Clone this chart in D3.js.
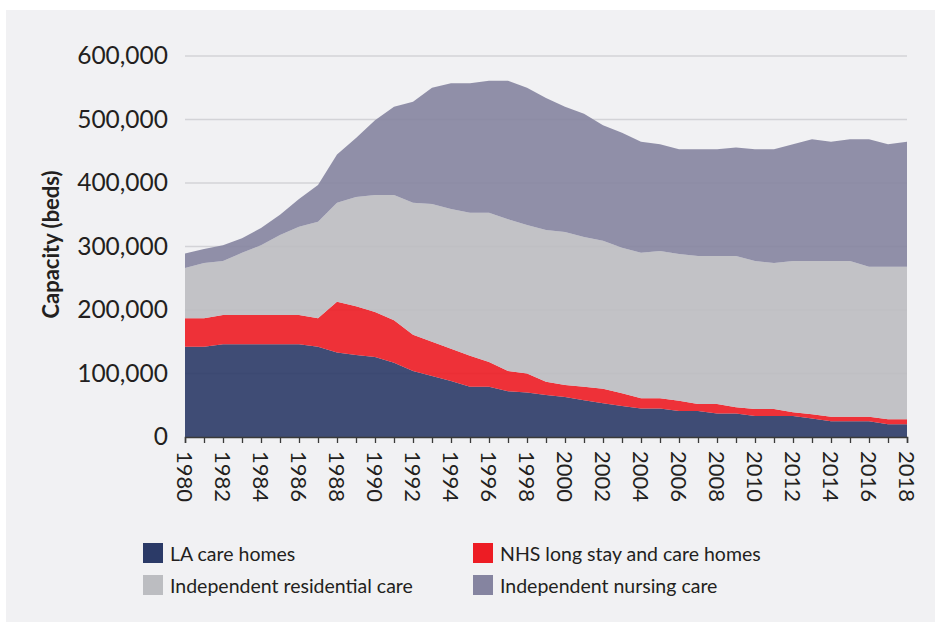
<!DOCTYPE html>
<html>
<head>
<meta charset="utf-8">
<script src="https://cdnjs.cloudflare.com/ajax/libs/d3/7.8.5/d3.min.js"></script>
<style>
  body { margin: 0; background: #ffffff; }
  svg { display: block; font-family: Lato, "Open Sans", sans-serif; }
</style>
</head>
<body>
<svg id="chart" width="941" height="627"></svg>
<script>

//
// Data (beds)
//
var years = d3.range(1980, 2019);

var la_care = [142000, 142000, 146000, 146000, 146000, 146000, 146000, 142000, 133000, 129000,
               126000, 117000, 104000, 96000, 88000, 79000, 79000, 72000, 70000, 66000,
               63000, 58000, 53000, 49000, 45000, 45000, 41000, 41000, 37000, 37000,
               33000, 33000, 33000, 29000, 25000, 25000, 25000, 20000, 20000];

var nhs_care = [45000, 45000, 46000, 46000, 46000, 46000, 46000, 45000, 80000, 77000,
                71000, 67000, 57000, 54000, 51000, 49000, 39000, 32000, 30000, 21000,
                19000, 21000, 23000, 20000, 16000, 16000, 16000, 11000, 15000, 10000,
                11000, 11000, 6000, 7000, 7000, 7000, 7000, 8000, 8000];

var ind_residential = [79000, 87000, 85000, 98000, 110000, 126000, 139000, 152000, 156000, 172000,
                       184000, 197000, 208000, 217000, 220000, 225000, 235000, 239000, 234000, 239000,
                       241000, 236000, 233000, 229000, 229000, 232000, 231000, 233000, 233000, 238000,
                       233000, 230000, 238000, 241000, 245000, 245000, 236000, 240000, 240000];

var ind_nursing = [23000, 22000, 25000, 23000, 27000, 32000, 44000, 58000, 76000, 93000,
                   118000, 139000, 159000, 183000, 198000, 204000, 208000, 218000, 216000, 208000,
                   197000, 194000, 182000, 181000, 175000, 168000, 165000, 168000, 168000, 171000,
                   176000, 179000, 184000, 192000, 188000, 192000, 201000, 193000, 197000];

var series_keys = ['la', 'nhs', 'res', 'nur'];
var series_names = ['LA care homes', 'NHS long stay and care homes',
                    'Independent residential care', 'Independent nursing care'];
var colors = ['#2b3a67', '#ed1c24', '#bcbdc1', '#8584a0'];

var y_ticks = [0, 100000, 200000, 300000, 400000, 500000, 600000];

var rows = years.map(function (y, i) {
    return { year: y, la: la_care[i], nhs: nhs_care[i], res: ind_residential[i], nur: ind_nursing[i] };
});

//
// Chart
//
var svg = d3.select('#chart');
var margin = { left: 185, right: 34, top: 56, bottom: 190 };
var width = 941 - margin.left - margin.right,
    height = 627 - margin.top - margin.bottom;

svg.append('rect')
    .attr('x', 6).attr('y', 10)
    .attr('width', 929).attr('height', 612)
    .attr('fill', '#f1f1f3');

var x = d3.scaleLinear().domain([1980, 2018]).range([0, width]);
var y = d3.scaleLinear().domain([0, 600000]).range([height, 0]);

var g = svg.append('g').attr('transform', 'translate(' + margin.left + ',' + margin.top + ')');

// grid lines sit under the (slightly see-through) areas
g.append('g')
    .selectAll('line')
    .data(y_ticks.filter(function (d) { return d > 0; }))
    .enter()
    .append('line')
    .attr('x1', 0).attr('x2', width)
    .attr('y1', function (d) { return y(d); })
    .attr('y2', function (d) { return y(d); })
    .attr('stroke', '#d3d3d7')
    .attr('stroke-width', 1.5);

var stack = d3.stack().keys(series_keys);
var layers = stack(rows);

var area = d3.area()
    .x(function (d) { return x(d.data.year); })
    .y0(function (d) { return y(d[0]); })
    .y1(function (d) { return y(d[1]); });

g.selectAll('path.layer')
    .data(layers)
    .enter()
    .append('path')
    .attr('class', 'layer')
    .attr('d', area)
    .attr('fill', function (d, i) { return colors[i]; })
    .attr('fill-opacity', 0.9);

// y axis labels
var yAxis = d3.axisLeft(y)
    .tickValues(y_ticks)
    .tickSize(0)
    .tickPadding(17)
    .tickFormat(d3.format(','));

var ya = g.append('g').call(yAxis);
ya.select('.domain').remove();
ya.selectAll('text')
    .attr('font-size', 24.5)
    .attr('fill', '#231f20')
    .attr('font-family', 'Lato, sans-serif');

// x axis, one tick per year, labels every two years
var xAxis = d3.axisBottom(x)
    .tickValues(years)
    .tickSize(6)
    .tickFormat(function (d) { return d % 2 === 0 ? d : ''; });

var xa = g.append('g')
    .attr('transform', 'translate(0,' + height + ')')
    .call(xAxis);
xa.select('.domain').attr('stroke', '#3a3a3a').attr('stroke-width', 1.5);
xa.selectAll('.tick line').attr('stroke', '#3a3a3a').attr('stroke-width', 1.3);
xa.selectAll('text')
    .attr('font-size', 22)
    .attr('fill', '#231f20')
    .attr('font-family', 'Lato, sans-serif')
    .attr('text-anchor', 'start')
    .attr('dominant-baseline', 'central')
    .attr('transform', 'rotate(90)')
    .attr('x', 14)
    .attr('y', 0)
    .attr('dy', null);

// y title
svg.append('text')
    .attr('transform', 'translate(50,' + (margin.top + height / 2 - 2) + ') rotate(-90)')
    .attr('text-anchor', 'middle')
    .attr('dominant-baseline', 'central')
    .attr('font-size', 22)
    .attr('font-weight', 'bold')
    .attr('fill', '#231f20')
    .text('Capacity (beds)');

//
// Legend
//
var legend_pos = [[143, 553], [473, 553], [143, 585], [473, 585]];

var lg = svg.append('g')
    .selectAll('g')
    .data(series_names)
    .enter()
    .append('g')
    .attr('transform', function (d, i) { return 'translate(' + legend_pos[i][0] + ',' + legend_pos[i][1] + ')'; });

lg.append('rect')
    .attr('x', 0).attr('y', -10)
    .attr('width', 20).attr('height', 20)
    .attr('fill', function (d, i) { return colors[i]; });

lg.append('text')
    .attr('x', 27)
    .attr('y', 0)
    .attr('dominant-baseline', 'central')
    .attr('font-size', 19.5)
    .attr('fill', '#231f20')
    .text(function (d) { return d; });

</script>
</body>
</html>
